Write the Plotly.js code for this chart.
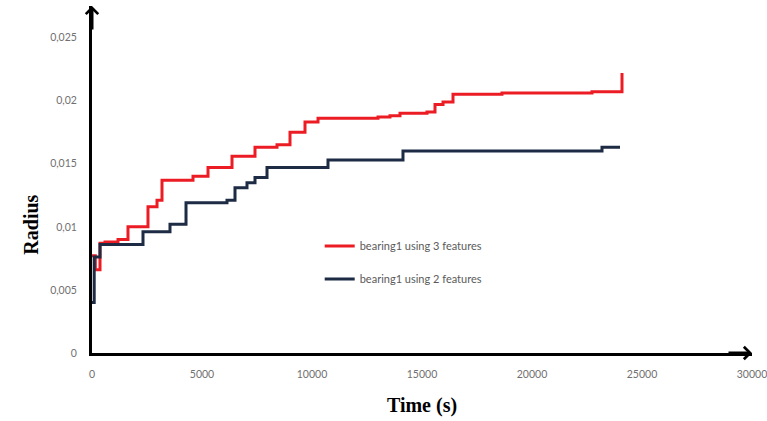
<!DOCTYPE html>
<html>
<head>
<meta charset="utf-8">
<script src="https://cdn.plot.ly/plotly-3.0.1.min.js"></script>
<style>html,body{margin:0;padding:0;background:#fff;}#chart{width:767px;height:421px;}</style>
</head>
<body>
<div id="chart"></div>
<script>
// Series: bearing1 using 3 features (step curve)
const time3 = [0, 150, 364, 591, 1182, 1636, 2545, 2955, 3182, 4591, 5273, 6364, 7409, 8409, 9000, 9682, 10273, 13000, 13545, 14000, 15227, 15591, 15955, 16409, 18636, 22727, 24091];
const radius3 = [0.0077, 0.0066, 0.0087, 0.0088, 0.0090, 0.0100, 0.0116, 0.0121, 0.0137, 0.0140, 0.0147, 0.0156, 0.0163, 0.0165, 0.0175, 0.0183, 0.0186, 0.0187, 0.0188, 0.0190, 0.0191, 0.0197, 0.0199, 0.0205, 0.0206, 0.0207, 0.0222];
// Series: bearing1 using 2 features (step curve)
const time2 = [0, 100, 364, 2318, 3545, 4273, 6136, 6500, 7045, 7409, 7955, 10727, 14136, 23182, 24000];
const radius2 = [0.0040, 0.0076, 0.0086, 0.0096, 0.0102, 0.0119, 0.0121, 0.0131, 0.0135, 0.0139, 0.0147, 0.0153, 0.0160, 0.0163, 0.0163];
// Tick labels
const xTickVals = [0, 5000, 10000, 15000, 20000, 25000, 30000];
const xTickLabels = ['0', '5000', '10000', '15000', '20000', '25000', '30000'];
const yTickVals = [0, 0.005, 0.01, 0.015, 0.02, 0.025];
const yTickLabels = ['0', '0,005', '0,01', '0,015', '0,02', '0,025'];
const seriesNames = ['bearing1 using 3 features', 'bearing1 using 2 features'];

const traces = [
  {x: time3, y: radius3, name: seriesNames[0], mode: 'lines', line: {shape: 'hv', color: '#ec1c24', width: 3}, legendgroup: 'a'},
  {x: time2, y: radius2, name: seriesNames[1], mode: 'lines', line: {shape: 'hv', color: '#1d2b44', width: 3}, legendgroup: 'b'}
];

const tickFont = {family: 'Lato, "Open Sans", sans-serif', size: 10.5, color: '#707070'};
const layout = {
  width: 767, height: 421,
  margin: {l: 92, r: 15, t: 6, b: 68},
  paper_bgcolor: '#fff', plot_bgcolor: '#fff',
  showlegend: true,
  legend: {x: 0.345, y: 0.35, xanchor: 'left', yanchor: 'top', tracegroupgap: 14,
           font: {family: 'Lato, "Open Sans", sans-serif', size: 11, color: '#5a5a5a'}, bgcolor: 'rgba(0,0,0,0)'},
  xaxis: {range: [0, 30000], tickvals: xTickVals, ticktext: xTickLabels, showgrid: false, zeroline: false,
          showline: true, linecolor: '#000', linewidth: 3, ticks: '', ticklabelstandoff: 9, tickfont: tickFont,
          ticklabeloverflow: 'allow',
          title: {text: 'Time (s)', font: {family: '"Liberation Serif", "Times New Roman", serif', size: 20, color: '#000', weight: 'bold'}, standoff: 20}},
  yaxis: {range: [0, 0.0275], tickvals: yTickVals, ticktext: yTickLabels, showgrid: false, zeroline: false,
          showline: true, linecolor: '#000', linewidth: 3, ticks: '', ticklabelstandoff: 10, tickfont: tickFont},
  annotations: [
    {xref: 'paper', yref: 'paper', x: -0.112, y: 0.37, text: '<b>Radius</b>', showarrow: false, textangle: -90,
     font: {family: '"Liberation Serif", "Times New Roman", serif', size: 20, color: '#000'}},
    {xref: 'paper', yref: 'paper', x: 0, y: 1, ax: 0, ay: 25, text: '', showarrow: true, arrowhead: 4, arrowsize: 0.8, arrowwidth: 3, arrowcolor: '#000', standoff: 0},
    {xref: 'paper', yref: 'paper', x: 1, y: 0, ax: -25, ay: 0, text: '', showarrow: true, arrowhead: 4, arrowsize: 0.8, arrowwidth: 3, arrowcolor: '#000', standoff: 0}
  ]
};

Plotly.newPlot('chart', traces, layout, {displayModeBar: false, staticPlot: true});
</script>
</body>
</html>
